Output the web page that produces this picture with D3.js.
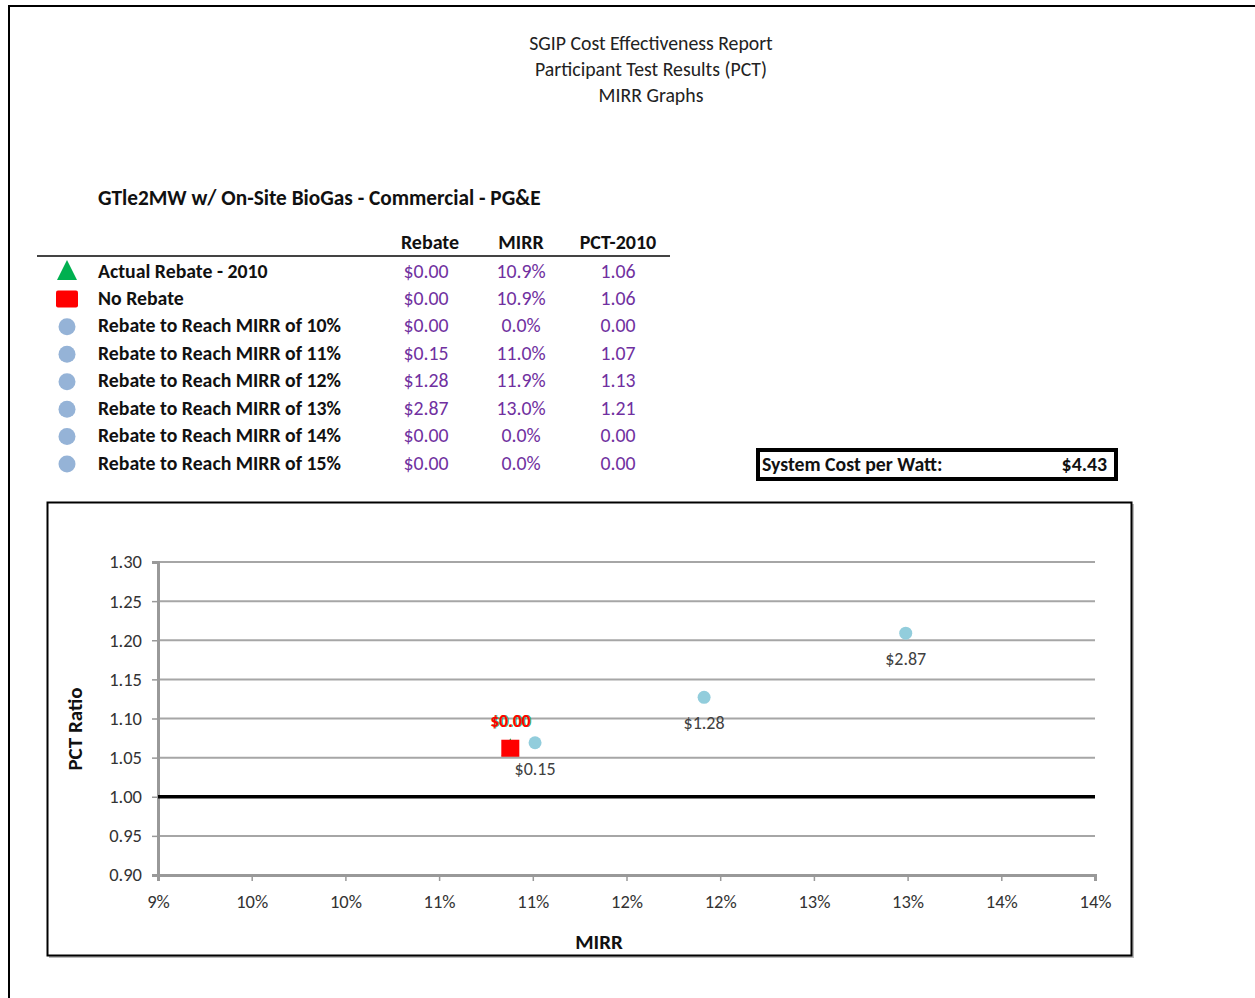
<!DOCTYPE html>
<html>
<head>
<meta charset="utf-8">
<script src="https://cdn.jsdelivr.net/npm/d3@7"></script>
<style>
  body { margin: 0; background: #fff; }
  svg { display: block; font-family: Carlito, "Open Sans", Lato, sans-serif; }
</style>
</head>
<body>
<svg id="chart" width="1255" height="998"></svg>
<script>
const titleLines = ["SGIP Cost Effectiveness Report", "Participant Test Results (PCT)", "MIRR Graphs"];
const subtitle = "GTle2MW w/ On-Site BioGas - Commercial - PG&E";

const rowNames = [
  "Actual Rebate - 2010",
  "No Rebate",
  "Rebate to Reach MIRR of 10%",
  "Rebate to Reach MIRR of 11%",
  "Rebate to Reach MIRR of 12%",
  "Rebate to Reach MIRR of 13%",
  "Rebate to Reach MIRR of 14%",
  "Rebate to Reach MIRR of 15%"
];
const rowKinds = ["triangle", "square", "circle", "circle", "circle", "circle", "circle", "circle"];
const rebates = [0.00, 0.00, 0.00, 0.15, 1.28, 2.87, 0.00, 0.00];
const mirrs = [0.1088, 0.1088, 0.0, 0.11012, 0.11914, 0.1299, 0.0, 0.0];
const pcts = [1.062, 1.062, 0.00, 1.069, 1.127, 1.209, 0.00, 0.00];
const systemCost = 4.43;

const xTicks = [0.09, 0.095, 0.10, 0.105, 0.11, 0.115, 0.12, 0.125, 0.13, 0.135, 0.14];
const yTicks = [0.90, 0.95, 1.00, 1.05, 1.10, 1.15, 1.20, 1.25, 1.30];

const svg = d3.select("#chart");
const purple = "#7030a0";

// page border
svg.append("path").attr("d", "M9,998 V6 H1255").attr("fill", "none")
  .attr("stroke", "#000").attr("stroke-width", 2);

// titles
svg.append("g").selectAll("text").data(titleLines).join("text")
  .attr("x", 651).attr("y", (d, i) => 50 + i * 26)
  .attr("text-anchor", "middle").attr("font-size", 19.8).attr("fill", "#222")
  .text(d => d);

svg.append("text").attr("x", 98).attr("y", 205).attr("font-size", 21.3)
  .attr("font-weight", "bold").attr("fill", "#111").text(subtitle);

// table
const cols = [430, 521, 618];
const headers = ["Rebate", "MIRR", "PCT-2010"];
svg.append("g").selectAll("text").data(headers).join("text")
  .attr("x", (d, i) => cols[i]).attr("y", 249).attr("text-anchor", "middle")
  .attr("font-size", 20).attr("font-weight", "bold").attr("fill", "#111").text(d => d);
svg.append("line").attr("x1", 37).attr("x2", 670).attr("y1", 256).attr("y2", 256)
  .attr("stroke", "#444").attr("stroke-width", 2);

const rowY = d3.scaleLinear().domain([0, 7]).range([271, 463]);
const rows = svg.append("g").selectAll("g").data(rowNames).join("g")
  .attr("transform", (d, i) => `translate(0,${rowY(i)})`);

rows.each(function (d, i) {
  const g = d3.select(this);
  if (rowKinds[i] === "triangle") {
    g.append("path").attr("d", "M67,-11 L77,9 L57,9 Z").attr("fill", "#00b050");
  } else if (rowKinds[i] === "square") {
    g.append("rect").attr("x", 56).attr("y", -8).attr("width", 22).attr("height", 17)
      .attr("rx", 2).attr("fill", "#ff0000");
  } else {
    g.append("circle").attr("cx", 67).attr("cy", 1).attr("r", 8.5).attr("fill", "#95b3d7");
  }
  g.append("text").attr("x", 98).attr("y", 6.5).attr("font-size", 19.8)
    .attr("font-weight", "bold").attr("fill", "#111").text(d);
  const vals = ["$" + rebates[i].toFixed(2), (mirrs[i] * 100).toFixed(1) + "%", pcts[i].toFixed(2)];
  g.selectAll("text.v").data(vals).join("text").attr("class", "v")
    .attr("x", (v, j) => cols[j] - (j === 0 ? 4 : 0)).attr("y", 6.5)
    .attr("text-anchor", "middle").attr("font-size", 19.8).attr("fill", purple).text(v => v);
});

// system cost box
svg.append("rect").attr("x", 758).attr("y", 450).attr("width", 358).attr("height", 29)
  .attr("fill", "#fff").attr("stroke", "#000").attr("stroke-width", 4);
svg.append("text").attr("x", 762).attr("y", 470.5).attr("font-size", 19.8)
  .attr("font-weight", "bold").attr("fill", "#111").text("System Cost per Watt:");
svg.append("text").attr("x", 1107).attr("y", 470.5).attr("font-size", 19.8).attr("text-anchor", "end")
  .attr("font-weight", "bold").attr("fill", "#111").text("$" + systemCost.toFixed(2));

// chart frame
svg.append("rect").attr("x", 49).attr("y", 504).attr("width", 1085).attr("height", 454)
  .attr("fill", "#bbb");
svg.append("rect").attr("x", 47.5).attr("y", 502.5).attr("width", 1084).attr("height", 453)
  .attr("fill", "#fff").attr("stroke", "#000").attr("stroke-width", 2);

const x = d3.scaleLinear().domain([0.09, 0.14]).range([158, 1095]);
const y = d3.scaleLinear().domain([0.90, 1.30]).range([875, 562]);

// gridlines
svg.append("g").selectAll("line").data(yTicks.filter(t => t !== 1.00 && t !== 0.90)).join("line")
  .attr("x1", x(0.09)).attr("x2", x(0.14)).attr("y1", d => y(d)).attr("y2", d => y(d))
  .attr("stroke", "#a6a6a6").attr("stroke-width", 2);

// axes
const yAxis = svg.append("g").attr("transform", `translate(${x(0.09)},0)`)
  .call(d3.axisLeft(y).tickValues(yTicks).tickFormat(d3.format(".2f")).tickSize(6).tickPadding(10));
const xAxis = svg.append("g").attr("transform", `translate(0,${y(0.90)})`)
  .call(d3.axisBottom(x).tickValues(xTicks).tickFormat(d => Math.round(d * 100 + 1e-9) + "%").tickSize(6).tickPadding(16));
[yAxis, xAxis].forEach(a => {
  a.select(".domain").attr("stroke", "#999").attr("stroke-width", 3);
  a.selectAll(".tick line").attr("stroke", "#999").attr("stroke-width", 1.5);
  a.selectAll(".tick text").attr("font-size", 18.5).attr("fill", "#333")
    .attr("font-family", "Carlito, 'Open Sans', Lato, sans-serif");
});
xAxis.selectAll(".tick text").attr("dy", "0.6em");

// 1.00 reference line
svg.append("line").attr("x1", x(0.09)).attr("x2", x(0.14)).attr("y1", y(1)).attr("y2", y(1))
  .attr("stroke", "#000").attr("stroke-width", 3.5);

// axis titles
svg.append("text").attr("x", 599).attr("y", 949).attr("text-anchor", "middle")
  .attr("font-size", 21).attr("font-weight", "bold").attr("fill", "#111").text("MIRR");
svg.append("text").attr("transform", "translate(82,729) rotate(-90)").attr("text-anchor", "middle")
  .attr("font-size", 21).attr("font-weight", "bold").attr("fill", "#111").text("PCT Ratio");

// points (only those inside the plotted range)
const pts = rowNames.map((n, i) => ({ i, kind: rowKinds[i], rebate: rebates[i], mirr: mirrs[i], pct: pcts[i] }))
  .filter(p => p.mirr >= 0.09 && p.mirr <= 0.14 && p.pct >= 0.9 && p.pct <= 1.3);

const marks = svg.append("g");
pts.filter(p => p.kind === "circle").forEach(p => {
  marks.append("circle").attr("cx", x(p.mirr)).attr("cy", y(p.pct)).attr("r", 6.5).attr("fill", "#92cddc");
  marks.append("text").attr("x", x(p.mirr)).attr("y", y(p.pct) + 32).attr("text-anchor", "middle")
    .attr("font-size", 18).attr("fill", "#404040").text("$" + p.rebate.toFixed(2));
});
pts.filter(p => p.kind === "triangle").forEach(p => {
  const cx = x(p.mirr), cy = y(p.pct);
  marks.append("path").attr("d", `M${cx},${cy - 10} L${cx + 9},${cy + 8} L${cx - 9},${cy + 8} Z`).attr("fill", "#00b050");
  marks.append("text").attr("x", cx + 1).attr("y", cy - 21).attr("text-anchor", "middle")
    .attr("font-size", 17.5).attr("font-weight", "bold").attr("fill", "#00b050").text("$" + p.rebate.toFixed(2));
});
pts.filter(p => p.kind === "square").forEach(p => {
  const cx = x(p.mirr), cy = y(p.pct);
  marks.append("rect").attr("x", cx - 9).attr("y", cy - 8.5).attr("width", 18).attr("height", 17).attr("fill", "#ff0000");
  marks.append("text").attr("x", cx).attr("y", cy - 21).attr("text-anchor", "middle")
    .attr("font-size", 17.5).attr("font-weight", "bold").attr("fill", "#ff0000").text("$" + p.rebate.toFixed(2));
});
</script>
</body>
</html>
